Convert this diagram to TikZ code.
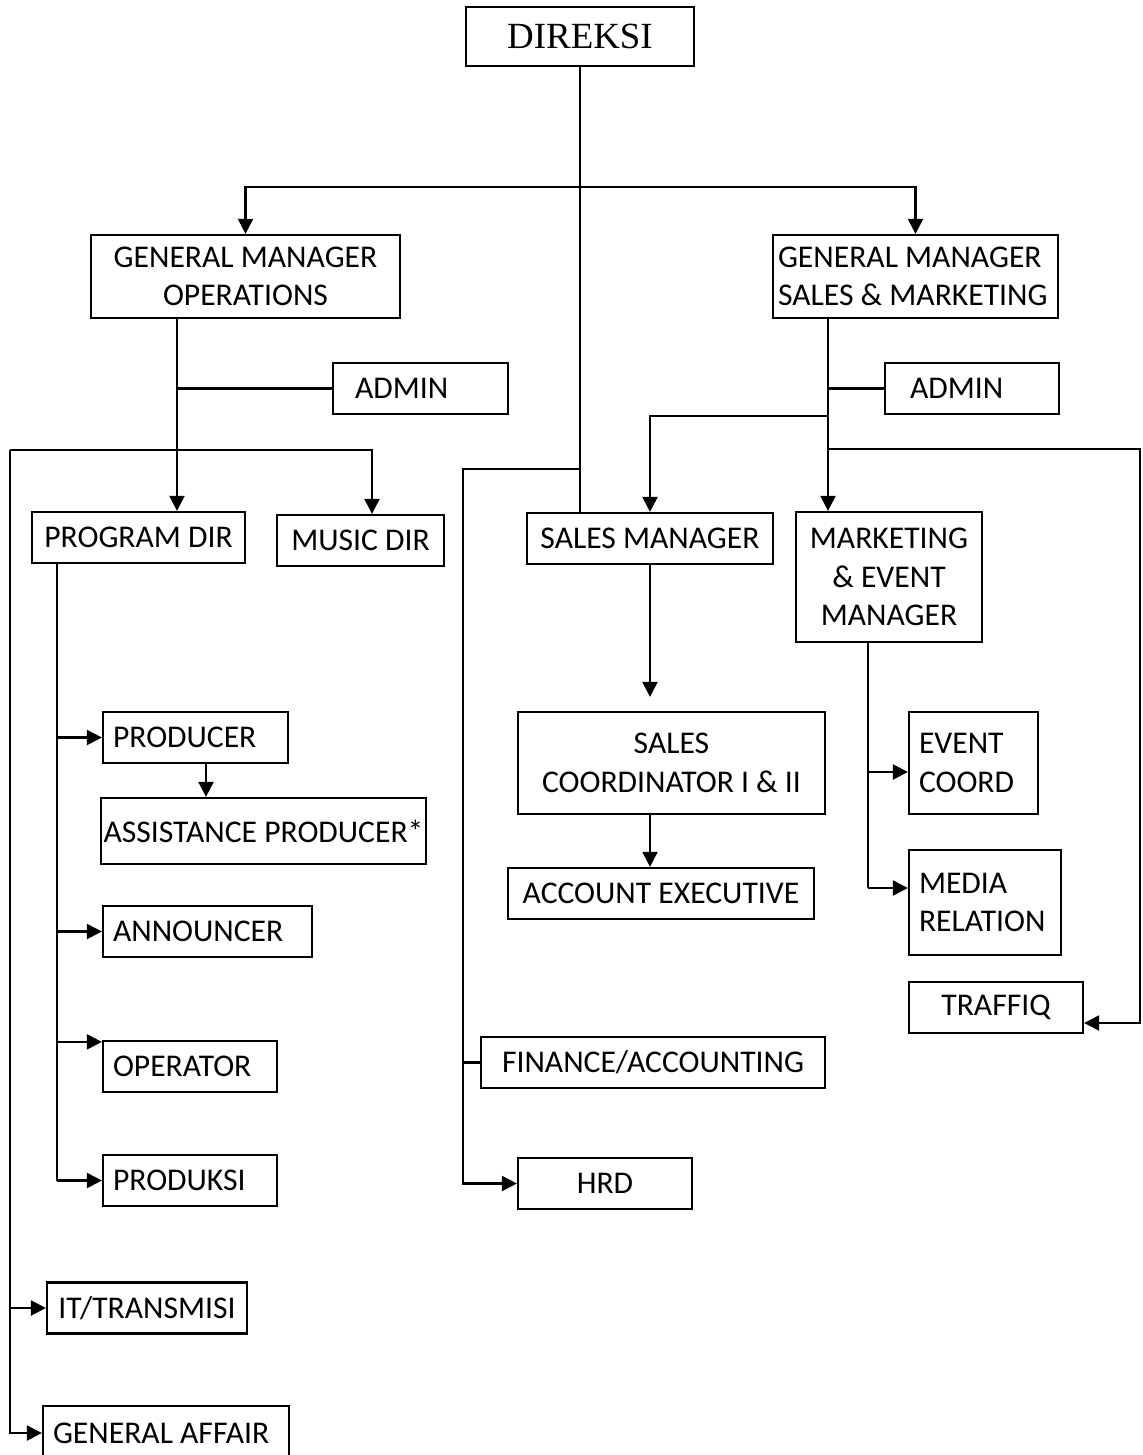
\documentclass[tikz,border=0pt]{standalone}
\usepackage{fontspec}
\setmainfont{Carlito}
\newfontfamily\dirfont{Liberation Serif}
\usetikzlibrary{arrows.meta}

\tikzset{
    box/.style = {draw, fill=white, inner xsep=0.2cm, inner ysep=0.1cm, minimum height=1.02cm, align=center, font=\fontsize{18}{22}\selectfont},
    lbox/.style = {box, align=flush left, text width=#1},
    arr/.style = {-{Triangle[length=0.3cm, width=0.3cm]}}
}

\begin{document}
\begin{tikzpicture}[x=0.02cm, y=-0.02cm, line width=1.3pt]
    \useasboundingbox (0,0) rectangle (1143,1455);

    % top
    \node[box, font=\dirfont\fontsize{21}{25}\selectfont, minimum width=4.56cm, minimum height=1.18cm] (dir) at (580,36.5) {DIREKSI};
    \node[box, minimum width=6.18cm, minimum height=1.66cm] (gmo) at (245.5,276.5) {GENERAL MANAGER\\OPERATIONS};
    \node[lbox=5.5cm, inner xsep=0.1cm, minimum height=1.66cm] (gms) at (915.5,276.5) {GENERAL MANAGER\\SALES \& MARKETING};
    \node[lbox=2.62cm, inner xsep=0.44cm] (adm1) at (420.5,388.5) {ADMIN};
    \node[lbox=2.48cm, inner xsep=0.5cm] (adm2) at (972,388.5) {ADMIN};

    % operations side
    \node[box, minimum width=4.26cm] (pdir) at (138.5,537.5) {PROGRAM DIR};
    \node[box, minimum width=3.34cm] (mdir) at (360.5,540.5) {MUSIC DIR};
    \node[lbox=3.3cm] (prod) at (195.5,737.5) {PRODUCER};
    \node[box, inner xsep=0.05cm, minimum width=6.42cm, minimum height=1.32cm] (aprod) at (263.5,831) {ASSISTANCE PRODUCER*};
    \node[lbox=3.78cm] (ann) at (207.5,931.5) {ANNOUNCER};
    \node[lbox=3.08cm] (opr) at (190,1066.5) {OPERATOR};
    \node[lbox=3.08cm] (prodk) at (190,1180.5) {PRODUKSI};
    \node[box, minimum width=4cm] (it) at (147,1308) {IT/TRANSMISI};
    \node[lbox=4.52cm, minimum height=1.08cm] (ga) at (166,1433) {GENERAL AFFAIR};

    % sales side
    \node[box, minimum width=4.92cm] (sman) at (650,538.5) {SALES MANAGER};
    \node[box, minimum width=3.72cm, minimum height=2.6cm] (mkt) at (889,577) {MARKETING\\\& EVENT\\MANAGER};
    \node[box, minimum width=6.14cm, minimum height=2.04cm] (scoord) at (671.5,763) {SALES\\COORDINATOR I \& II};
    \node[box, minimum width=6.12cm] (acct) at (661,893.5) {ACCOUNT EXECUTIVE};
    \node[box, minimum width=6.88cm] (fin) at (653,1062.5) {FINANCE/ACCOUNTING};
    \node[box, minimum width=3.48cm] (hrd) at (605,1183.5) {HRD};
    \node[lbox=2.18cm, minimum height=2.04cm] (evt) at (973.5,763) {EVENT\\COORD};
    \node[lbox=2.64cm, minimum height=2.1cm] (media) at (985,902.5) {MEDIA\\RELATION};
    \node[box, minimum width=3.48cm] (traf) at (996,1007.5) {TRAFFIQ};

    % junctions
    \coordinate (top) at (580,187);
    \coordinate (fsp) at (463,469);
    \coordinate (osp) at (177,388.5);
    \coordinate (lbus) at (10,450);
    \coordinate (psp) at (57,0);
    \coordinate (gsp) at (828,416);
    \coordinate (rbus) at (1140,449);
    \coordinate (msp) at (868,0);
    \coordinate (pa) at ([xshift=0.21cm]prod.south);
    \coordinate (oprTip) at ([yshift=-0.04cm]opr.north west);
    \coordinate (scTip) at ([yshift=0.28cm]scoord.north);
    \coordinate (trfTip) at ([yshift=-0.31cm]traf.east);
    \coordinate (evtTip) at ([yshift=-0.18cm]evt.west);
    \coordinate (medTip) at ([yshift=0.29cm]media.west);

    \draw (dir.south) -- (dir.south |- sman.north);
    \draw[arr] (top) -| (gmo.north);
    \draw[arr] (top) -| (gms.north);

    \draw[arr] (dir.south |- fsp) -- (fsp) |- (hrd.west);
    \draw (fsp |- fin.west) -- (fin.west);

    \draw[arr] (gmo.south -| osp) -- (pdir.north -| osp);
    \draw (osp) -- (adm1.west);
    \draw[arr] (lbus) -| ([xshift=0.23cm]mdir.north);
    \draw[arr] (lbus) |- (it.west);
    \draw[arr] (lbus) |- (ga.west);

    \draw (pdir.south -| psp) -- (psp |- prodk.west);
    \draw[arr] (psp |- prod.west) -- (prod.west);
    \draw[arr] (pa) -- (pa |- aprod.north);
    \draw[arr] (psp |- ann.west) -- (ann.west);
    \draw[arr] (psp |- oprTip) -- (oprTip);
    \draw[arr] (psp |- prodk.west) -- (prodk.west);

    \draw[arr] (gms.south -| gsp) -- (mkt.north -| gsp);
    \draw (gsp |- adm2.west) -- (adm2.west);
    \draw[arr] (gsp) -| (sman.north);
    \draw[arr] (gsp |- rbus) -- (rbus) |- (trfTip);

    \draw[arr] (sman.south) -- (sman.south |- scTip);
    \draw[arr] (sman.south |- scoord.south) -- (sman.south |- acct.north);

    \draw (mkt.south -| msp) -- (msp |- medTip);
    \draw[arr] (msp |- evtTip) -- (evtTip);
    \draw[arr] (msp |- medTip) -- (medTip);
\end{tikzpicture}
\end{document}
